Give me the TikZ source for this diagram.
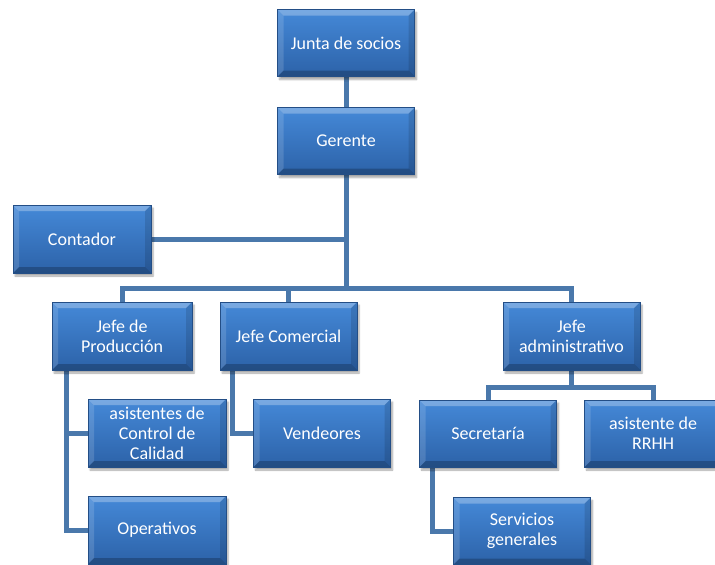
\documentclass[tikz,border=0pt]{standalone}
\usepackage{fontspec}
\newfontfamily\boxfont{Carlito}
\usetikzlibrary{shadows.blur,backgrounds}
\definecolor{boxtop}{HTML}{4589D8}
\definecolor{boxbot}{HTML}{2C62A8}
\definecolor{linkc}{HTML}{4A78AB}
\tikzset{
  orgbox/.style={minimum width=137pt, minimum height=67pt, inner sep=2pt,
    text=white, font=\boxfont\fontsize{18}{20}\selectfont, align=center,
    top color=boxtop, bottom color=boxbot, draw=boxbot!80!black, line width=0.4pt,
    blur shadow={shadow xshift=2pt, shadow yshift=-3pt, shadow blur steps=6, shadow opacity=35},
    path picture={
      \fill[white,opacity=0.28] (path picture bounding box.north west) -- (path picture bounding box.north east)
        -- ([xshift=-6pt,yshift=-6pt]path picture bounding box.north east) -- ([xshift=6pt,yshift=-6pt]path picture bounding box.north west) -- cycle;
      \fill[white,opacity=0.14] (path picture bounding box.north west) -- ([xshift=6pt,yshift=-6pt]path picture bounding box.north west)
        -- ([xshift=6pt,yshift=6pt]path picture bounding box.south west) -- (path picture bounding box.south west) -- cycle;
      \fill[black,opacity=0.22] (path picture bounding box.south west) -- (path picture bounding box.south east)
        -- ([xshift=-6pt,yshift=6pt]path picture bounding box.south east) -- ([xshift=6pt,yshift=6pt]path picture bounding box.south west) -- cycle;
      \fill[black,opacity=0.12] (path picture bounding box.north east) -- ([xshift=-6pt,yshift=-6pt]path picture bounding box.north east)
        -- ([xshift=-6pt,yshift=6pt]path picture bounding box.south east) -- (path picture bounding box.south east) -- cycle;
    }},
  link/.style={draw=linkc, line width=5pt}
}
\begin{document}
\begin{tikzpicture}[x=1pt,y=-1pt]
\useasboundingbox (0,0) rectangle (715,565);
\node[orgbox] (junta) at (346,43) {Junta de socios};
\node[orgbox] (ger) at (346,141) {Gerente};
\node[orgbox, minimum width=138pt, minimum height=68pt] (cont) at (82,239) {Contador};
\node[orgbox, minimum width=140pt, minimum height=68pt] (prod) at (122,336) {Jefe de\\Producción};
\node[orgbox, minimum height=68pt] (com) at (288.5,336) {Jefe Comercial};
\node[orgbox, minimum height=68pt] (adm) at (571.5,336) {Jefe\\administrativo};
\node[orgbox, minimum width=138pt, minimum height=68pt] (qc) at (157,433) {asistentes de\\Control de\\Calidad};
\node[orgbox, minimum height=68pt] (vend) at (322,433) {Vendeores};
\node[orgbox] (sec) at (488,433.5) {Secretaría};
\node[orgbox] (rrhh) at (653,433.5) {asistente de\\RRHH};
\node[orgbox, minimum width=138pt, minimum height=68pt] (ops) at (157,530) {Operativos};
\node[orgbox] (serv) at (522,531) {Servicios\\generales};
\coordinate (bus) at (346,288);
\coordinate (sbus) at (571.5,387);
\begin{pgfonlayer}{background}
\draw[link] (junta.south) -- (ger.north);
\draw[link] (ger.south) -- (bus);
\draw[link] (cont.east) -- (cont.east -| ger.south);
\draw[link] (prod.north) |- (bus) -| (adm.north);
\draw[link] (com.north) -- (com.north |- bus);
\draw[link] (adm.south) -- (sbus);
\draw[link] (sec.north) |- (sbus) -| (rrhh.north);
\draw[link] ([xshift=15pt]prod.south west) |- (qc.west);
\draw[link] ([xshift=15pt]prod.south west) |- (ops.west);
\draw[link] ([xshift=13pt]com.south west) |- (vend.west);
\draw[link] ([xshift=13pt]sec.south west) |- (serv.west);
\end{pgfonlayer}
\end{tikzpicture}
\end{document}
